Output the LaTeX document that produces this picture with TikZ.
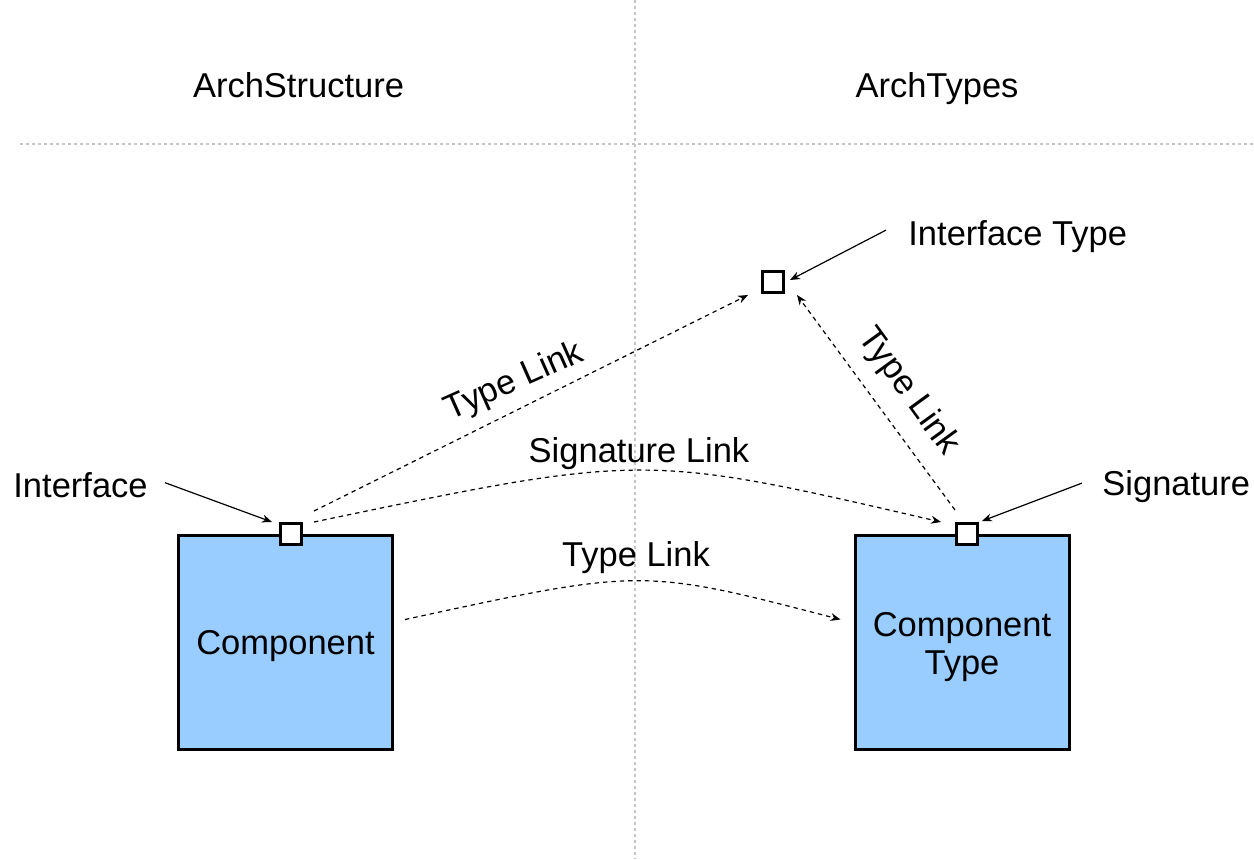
\documentclass[tikz,border=0pt]{standalone}
\usepackage{fontspec}
\setmainfont{Liberation Sans}
\usetikzlibrary{arrows.meta,calc}
\definecolor{boxblue}{HTML}{99CCFF}
\definecolor{guidegray}{HTML}{C4C4C4}
\begin{document}
\begin{tikzpicture}[x=0.5pt,y=-0.5pt,
  every node/.style={font=\fontsize{17.25}{19}\selectfont},
  guide/.style={draw=guidegray, line width=1pt, dash pattern=on 1.5pt off 1.5pt},
  compbox/.style={draw, line width=1.5pt, fill=boxblue, minimum size=107pt, inner sep=0pt},
  boxtext/.style={inner sep=0pt, align=center},
  port/.style={draw, line width=1.5pt, fill=white, minimum size=10.5pt, inner sep=0pt},
  txt/.style={inner sep=0pt, anchor=base},
  link/.style={line width=0.6pt, dash pattern=on 2.2pt off 2pt, -{Stealth[length=5pt,width=4pt]}},
  pointer/.style={line width=0.6pt, -{Stealth[length=5pt,width=4pt]}},
]
\useasboundingbox (0,0) rectangle (1254,859);

% dividers between the two spaces
\draw[guide] (635,0) -- (635,859);
\draw[guide] (20,144) -- (1254,144);

% column headings
\node[txt] (archs) at (298.5,97) {ArchStructure};
\node[txt] (archt) at (937,97) {ArchTypes};

% components and their ports
\node[compbox] (comp) at (285.5,642.5) {};
\node[boxtext] (comptext) at (285.5,646.5) {Component};
\node[compbox] (ctype) at (962,642.5) {};
\node[boxtext] (ctypetext) at (962,647.5) {Component\\Type};
\node[port] (iface) at (291,534) {};
\node[port] (sig) at (967,534) {};
\node[port] (itype) at (773,282) {};

% callout labels
\node[txt, anchor=base west] (ilabel) at (13,497) {Interface};
\node[txt, anchor=base west] (slabel) at (1102,495) {Signature};
\node[txt, anchor=base west] (tlabel) at (908,245) {Interface Type};

\draw[pointer] ($(ilabel.east)+(17,-2)$) -- ($(iface.north west)+(-7,0)$);
\draw[pointer] ($(slabel.west)+(-20,-3)$) -- ($(sig.north east)+(3,-1)$);
\draw[pointer] ($(tlabel.west)+(-22,-6)$) -- ($(itype.east)+(5,-2)$);

% typing and signature links
\draw[link] ($(iface.north east)+(11,-11)$) -- ($(itype.south west)+(-13,1)$);
\draw[link] ($(iface.north east)+(11,0)$) .. controls (644,453) .. ($(sig.north west)+(-14,0)$);
\draw[link] ($(sig.north west)+(0,-12)$) -- ($(itype.south east)+(12,1)$);
\draw[link] ($(comp.east)+(11,-23)$) .. controls (642,568) .. ($(ctype.west)+(-13,-23)$);

\node[txt, rotate=24] (tl1) at (518,390) {Type Link};
\node[txt] (sl) at (639,462) {Signature Link};
\node[txt] (tl2) at (636,566) {Type Link};
\node[txt, rotate=-54] (tl3) at (901,397) {Type Link};
\end{tikzpicture}
\end{document}
